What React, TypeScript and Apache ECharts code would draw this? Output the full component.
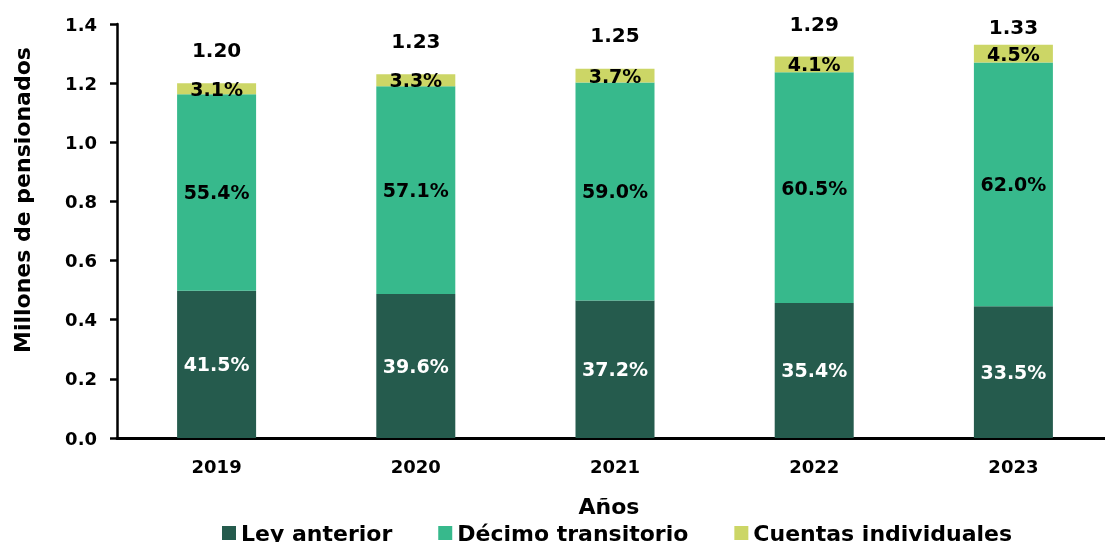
import React, { useEffect, useRef } from "react";
import * as echarts from "echarts";

const years = ["2019", "2020", "2021", "2022", "2023"];
const totals = [1.2, 1.23, 1.25, 1.29, 1.33];
const leyShare = [41.5, 39.6, 37.2, 35.4, 33.5];
const decimoShare = [55.4, 57.1, 59.0, 60.5, 62.0];
const cuentasShare = [3.1, 3.3, 3.7, 4.1, 4.5];
const yTicks = ["0.0", "0.2", "0.4", "0.6", "0.8", "1.0", "1.2", "1.4"];

const FONT = "'DejaVu Sans', sans-serif";
const C_LEY = "#255B4D";
const C_DEC = "#37B98C";
const C_CUE = "#CCD666";

export default function App() {
  const ref = useRef<HTMLDivElement>(null);
  useEffect(() => {
    if (!ref.current) return;
    const chart = echarts.init(ref.current, undefined, { renderer: "svg" });
    const toVal = (shares: number[]) => shares.map((s, i) => ({ value: (totals[i] * s) / 100, share: s }));
    const pctLabel = (color: string) => ({
      show: true,
      position: "inside",
      color,
      fontFamily: FONT,
      fontWeight: "bold",
      fontSize: 19,
      formatter: (p: any) => p.data.share.toFixed(1) + "%",
    });
    chart.setOption({
      animation: false,
      grid: { left: 117, right: -8, top: 24, bottom: 104, outerBoundsMode: "none", containLabel: false },
      graphic: [
        {
          type: "text",
          x: 22,
          y: 200,
          rotation: Math.PI / 2,
          style: {
            text: "Millones de pensionados",
            fontFamily: FONT,
            fontWeight: "bold",
            fontSize: 22,
            fill: "#000",
            align: "center",
            verticalAlign: "middle",
          },
        },
      ],
      legend: {
        data: ["Ley anterior", "Décimo transitorio", "Cuentas individuales"],
        left: 217,
        top: 517,
        itemWidth: 14,
        itemHeight: 14,
        itemGap: 46,
        icon: "rect",
        textStyle: { fontFamily: FONT, fontWeight: "bold", fontSize: 22, color: "#000" },
      },
      xAxis: {
        type: "category",
        data: years,
        name: "Años",
        nameLocation: "middle",
        nameGap: 57,
        nameTextStyle: { fontFamily: FONT, fontWeight: "bold", fontSize: 22, color: "#000", padding: [0, 12, 0, 0] },
        axisLine: { lineStyle: { color: "#000", width: 3 } },
        axisTick: { show: false },
        axisLabel: { fontFamily: FONT, fontWeight: "bold", fontSize: 18, color: "#000", margin: 19 },
      },
      yAxis: {
        type: "value",
        min: 0,
        max: 1.4,
        interval: 0.2,
        axisLine: { show: true, lineStyle: { color: "#000", width: 2.5 } },
        axisTick: { show: true, length: 7, lineStyle: { color: "#000", width: 2.5 } },
        splitLine: { show: false },
        axisLabel: {
          fontFamily: FONT,
          fontWeight: "bold",
          fontSize: 18,
          color: "#000",
          margin: 20,
          formatter: (v: number) => yTicks[Math.round(v / 0.2)] ?? v.toFixed(1),
        },
      },
      series: [
        {
          name: "Ley anterior",
          type: "bar",
          stack: "t",
          barWidth: 79,
          itemStyle: { color: C_LEY },
          label: pctLabel("#fff"),
          data: toVal(leyShare),
        },
        {
          name: "Décimo transitorio",
          type: "bar",
          stack: "t",
          barWidth: 79,
          itemStyle: { color: C_DEC },
          label: pctLabel("#000"),
          data: toVal(decimoShare),
        },
        {
          name: "Cuentas individuales",
          type: "bar",
          stack: "t",
          barWidth: 79,
          itemStyle: { color: C_CUE },
          label: pctLabel("#000"),
          data: toVal(cuentasShare),
        },
        {
          name: "Total",
          type: "scatter",
          symbolSize: 0,
          z: 5,
          itemStyle: { opacity: 1, color: "#000" },
          label: {
            show: true,
            position: "top",
            distance: 23,
            color: "#000",
            opacity: 1,
            fontFamily: FONT,
            fontWeight: "bold",
            fontSize: 20,
            formatter: (p: any) => Number(p.value).toFixed(2),
          },
          data: totals.map((t, i) =>
            i === totals.length - 1 ? { value: t, label: { distance: 8 } } : t
          ),
        },
      ],
    });
    return () => chart.dispose();
  }, []);
  return (
    <div
      ref={ref}
      style={{ position: "fixed", left: 0, top: 0, width: 1105, height: 542 }}
    />
  );
}
